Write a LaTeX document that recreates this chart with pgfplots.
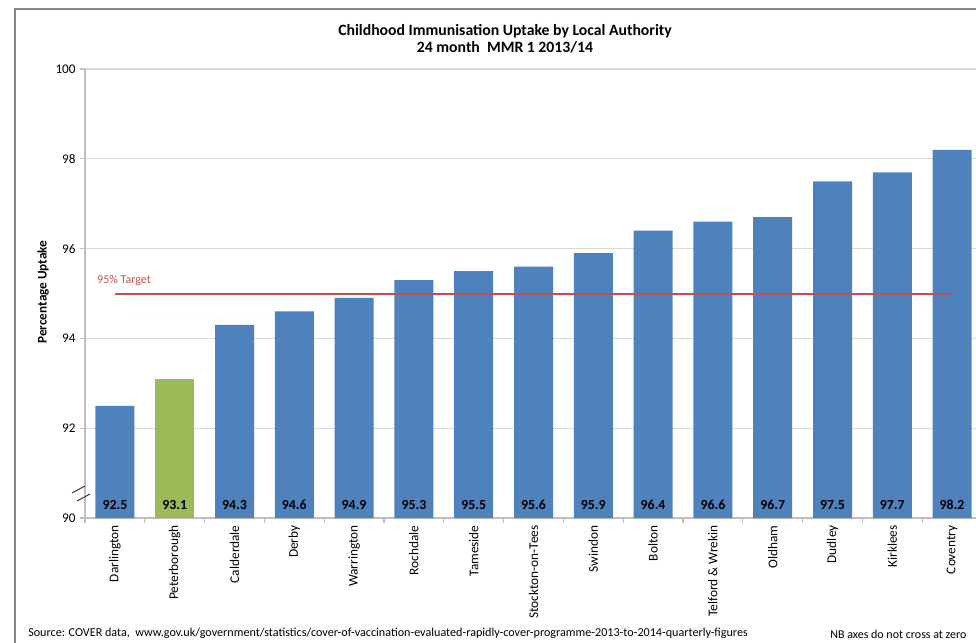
\documentclass[border=0pt]{standalone}
\usepackage{fontspec}
\setmainfont{Carlito}
\usepackage{pgfplots}
\pgfplotsset{compat=1.18}
\usepackage{pgfplotstable}
\definecolor{barblue}{HTML}{4F81BD}
\definecolor{bargreen}{HTML}{9BBB59}
\definecolor{tgtred}{HTML}{C0504D}
\definecolor{gridgray}{HTML}{D9D9D9}
\definecolor{axgray}{HTML}{BFBFBF}
\definecolor{framegray}{HTML}{868686}
\pgfkeys{/pgf/number format/assume math mode=true}

\pgfplotstableread{
x v
0 92.5
2 94.3
3 94.6
4 94.9
5 95.3
6 95.5
7 95.6
8 95.9
9 96.4
10 96.6
11 96.7
12 97.5
13 97.7
14 98.2
}\bluebars
\pgfplotstableread{
x v
1 93.1
}\greenbars

\begin{document}
\begin{tikzpicture}
\begin{axis}[
  at={(63.75pt,-388.5pt)}, anchor=south west,
  scale only axis, width=672.75pt, height=336.75pt,
  xmin=-0.5, xmax=14.5, ymin=90, ymax=100,
  axis x line*=bottom, axis y line*=left,
  axis line style={axgray, line width=0.9pt, -},
  ytick={90,92,...,100}, ymajorgrids,
  grid style={gridgray, line width=0.9pt},
  tick align=outside, major tick length=3.5pt,
  ytick style={axgray, line width=0.9pt},
  xtick={0,...,14},
  xticklabels={Darlington,Peterborough,Calderdale,Derby,Warrington,Rochdale,Tameside,Stockton-on-Tees,Swindon,Bolton,Telford \& Wrekin,Oldham,Dudley,Kirklees,Coventry},
  xtick style={draw=none},
  extra x ticks={-0.5,0.5,...,14.5},
  extra x tick labels={},
  extra x tick style={xtick style={draw=axgray, line width=0.9pt}, grid=none},
  xticklabel shift=-1.5pt,
  x tick label style={rotate=90, anchor=east, font=\fontsize{10}{11}\selectfont},
  y tick label style={font=\fontsize{9.9}{11}\selectfont},
  clip=true,
]
\addplot[ybar, bar width=29.25pt, bar shift=0pt, fill=barblue, draw=none,
  visualization depends on={rawy \as \rawy},
  nodes near coords={\pgfmathprintnumber[fixed,fixed zerofill,precision=1]{\pgfplotspointmeta}},
  every node near coord/.append style={anchor=center, font=\bfseries\fontsize{10.4}{12}\selectfont, yshift={(90.29-\rawy)*33.675pt}}]
  table[x=x,y=v]{\bluebars};
\addplot[ybar, bar width=29.25pt, bar shift=0pt, fill=bargreen, draw=none,
  visualization depends on={rawy \as \rawy},
  nodes near coords={\pgfmathprintnumber[fixed,fixed zerofill,precision=1]{\pgfplotspointmeta}},
  every node near coord/.append style={anchor=center, font=\bfseries\fontsize{10.4}{12}\selectfont, yshift={(90.29-\rawy)*33.675pt}}]
  table[x=x,y=v]{\greenbars};
\addplot[tgtred, line width=1.5pt, mark=none] coordinates {(0,95) (14,95)};
\node[anchor=south west, text=tgtred, font=\fontsize{9}{10}\selectfont, inner sep=0pt] at (axis cs:-0.30,95.18) {95\% Target};
\end{axis}
\begin{scope}[x=0.75pt,y=-0.75pt]
\draw[framegray, line width=1pt] (15,660) -- (15,9) -- (990,9);
\draw[black!75, line width=0.8pt] (72,493) -- (85,486);
\draw[black!75, line width=0.8pt] (77,501) -- (90,494);
\node[font=\bfseries\fontsize{11.8}{13}\selectfont, align=center] at (505,38.5) {Childhood Immunisation Uptake by Local Authority\\24 month\ \ MMR 1 2013/14};
\node[font=\bfseries\fontsize{9.9}{11}\selectfont, rotate=90] at (43,292) {Percentage Uptake};
\node[anchor=west, font=\fontsize{9.1}{10}\selectfont, inner sep=0pt] at (28,633) {Source: COVER data,\ \ www.gov.uk/government/statistics/cover-of-vaccination-evaluated-rapidly-cover-programme-2013-to-2014-quarterly-figures};
\node[anchor=west, font=\fontsize{9}{10}\selectfont, inner sep=0pt] at (830,634) {NB axes do not cross at zero};
\end{scope}
\pgfresetboundingbox
\path[use as bounding box] (0,0) rectangle (732pt,-482.25pt);
\end{tikzpicture}
\end{document}
